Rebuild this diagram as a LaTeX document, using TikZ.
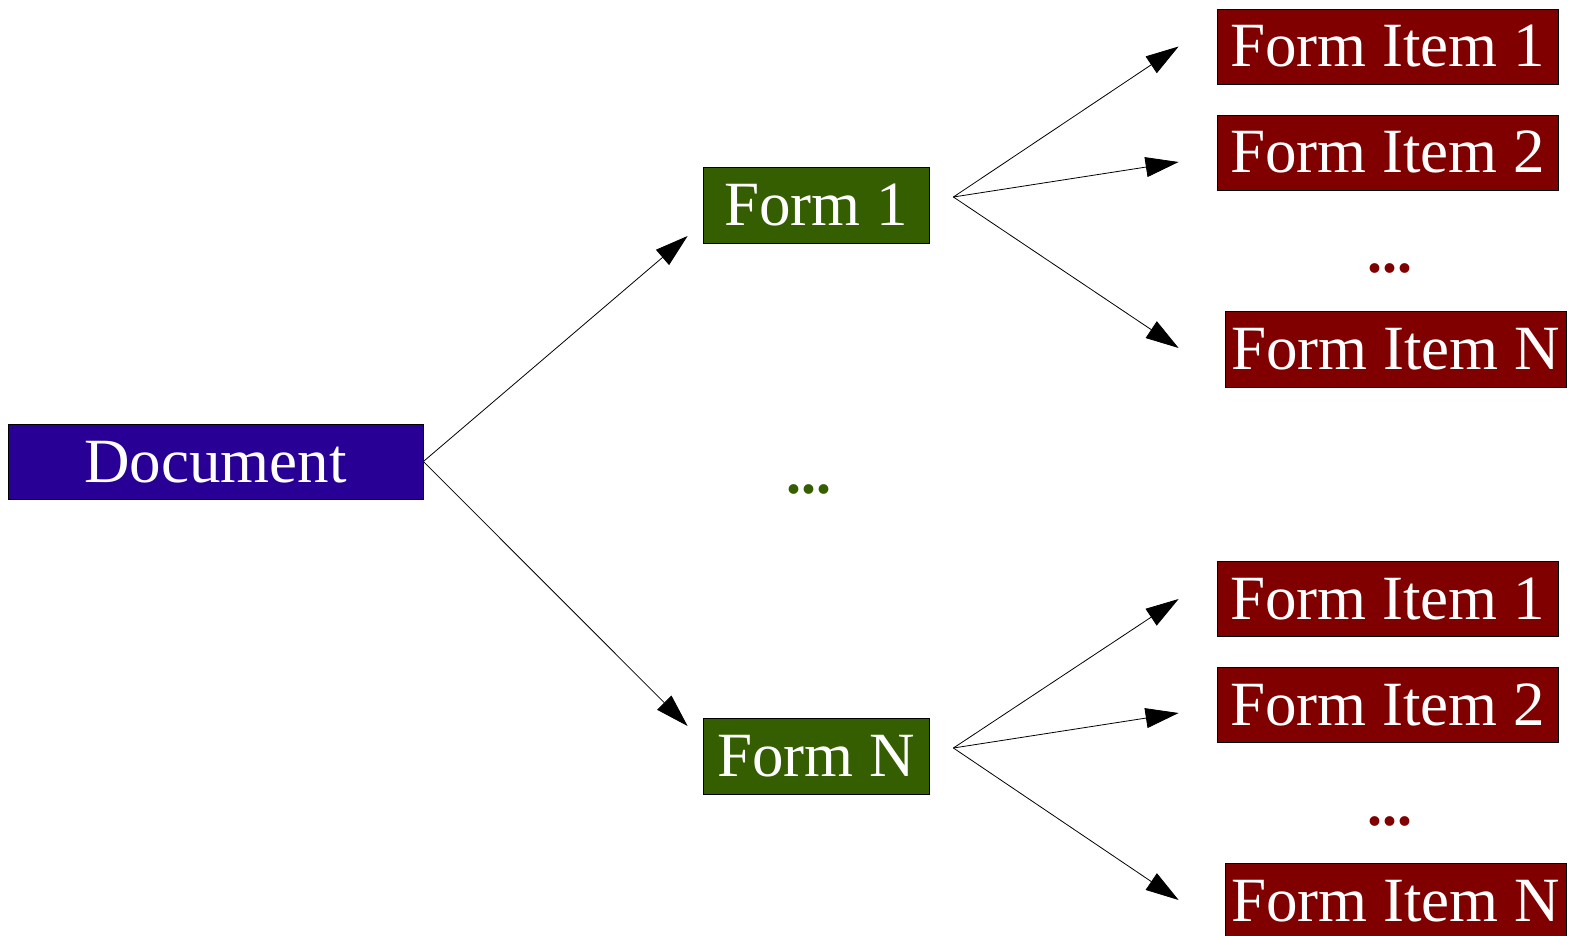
\documentclass[tikz,border=0pt]{standalone}
\usepackage{fontspec}
\setmainfont{Liberation Serif}
\usetikzlibrary{arrows.meta}
\definecolor{docblue}{RGB}{40,0,150}
\definecolor{formgreen}{RGB}{52,94,0}
\definecolor{itemred}{RGB}{128,0,0}
\begin{document}
\begin{tikzpicture}[x=1pt,y=-1pt,
  box/.style={draw=black, line width=0.8pt, inner sep=0pt, text=white,
    font=\fontsize{63}{75}\selectfont, text height=41pt, text depth=0pt},
  docbox/.style={box, fill=docblue, minimum width=415pt, minimum height=75pt},
  formbox/.style={box, fill=formgreen, minimum width=226pt, minimum height=76pt},
  itembox/.style={box, fill=itemred, minimum width=341pt, minimum height=75pt},
  dots/.style={inner sep=0pt, anchor=base, font=\fontsize{60}{72}\selectfont\bfseries},
  arr/.style={line width=0.8pt, -{Triangle[length=33pt,width=20pt]}}]
\useasboundingbox (0,0) rectangle (1570,936);
\fill[white] (0,0) rectangle (1570,936);

\node[docbox] (doc) at (215.5,461.5) {Document};
\node[formbox] (f1) at (816,205) {Form 1};
\node[formbox] (fN) at (816,756) {Form N};

\node[itembox] (i11) at (1387.5,46.5) {Form Item 1};
\node[itembox] (i12) at (1387.5,152.5) {Form Item 2};
\node[itembox, minimum height=76pt] (i1N) at (1395.5,349) {Form Item N};
\node[itembox] (iN1) at (1387.5,599) {Form Item 1};
\node[itembox] (iN2) at (1387.5,704.5) {Form Item 2};
\node[itembox, minimum height=76pt] (iNN) at (1395.5,901) {Form Item N};

\node[dots, text=formgreen] (gdots) at (809,493) {...};
\node[dots, text=itemred] (rdots1) at (1390,272) {...};
\node[dots, text=itemred] (rdots2) at (1390,825) {...};

\draw[arr] (doc.east) -- ([shift={(-15pt,-31pt)}]f1.west);
\draw[arr] (doc.east) -- ([shift={(-15pt,30pt)}]fN.west);

\draw[arr] ([shift={(24pt,8pt)}]f1.east) -- ([shift={(-38pt,0pt)}]i11.west);
\draw[arr] ([shift={(24pt,8pt)}]f1.east) -- ([shift={(-38pt,-9.5pt)}]i12.west);
\draw[arr] ([shift={(24pt,8pt)}]f1.east) -- ([shift={(-46pt,1pt)}]i1N.west);

\draw[arr] ([shift={(24pt,8pt)}]fN.east) -- ([shift={(-38pt,0pt)}]iN1.west);
\draw[arr] ([shift={(24pt,8pt)}]fN.east) -- ([shift={(-38pt,-8.5pt)}]iN2.west);
\draw[arr] ([shift={(24pt,8pt)}]fN.east) -- ([shift={(-46pt,1pt)}]iNN.west);
\end{tikzpicture}
\end{document}
